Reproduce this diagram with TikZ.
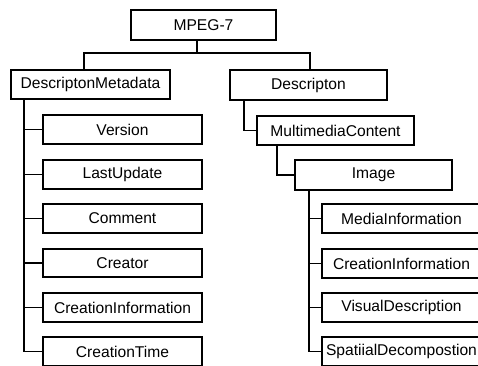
\documentclass[tikz,border=0pt]{standalone}
\usepackage{fontspec}
\setmainfont{Liberation Sans}
\tikzset{
  box/.style={draw, line width=1.1pt, inner sep=0pt, minimum height=29pt, font=\fontsize{15.6}{16}\selectfont},
  wbox/.style={box, minimum width=159pt},
  link/.style={line width=1.1pt}
}
\begin{document}
\begin{tikzpicture}[x=1pt,y=-1pt]
\useasboundingbox (0,0) rectangle (478,365);
\clip (0,0) rectangle (478,365);
\fill[white] (0,0) rectangle (478,365);
% nodes
\node[box, minimum width=145pt, minimum height=30pt] (mpeg) at (203.5,25) {MPEG-7};
\node[wbox] (dm) at (90.5,84.5) {DescriptonMetadata};
\node[box, minimum width=157pt, minimum height=30pt] (desc) at (308.5,85) {Descripton};
\node[wbox, minimum width=157pt] (mc) at (335.5,130.5) {MultimediaContent};
\node[wbox, minimum width=157pt, minimum height=30pt] (img) at (373.5,175) {Image};
% left children
\node[wbox] (ver) at (122.5,129.5) {Version};
\node[wbox] (lu)  at (122.5,174.5) {LastUpdate};
\node[wbox] (com) at (122.5,218.5) {Comment};
\node[wbox, minimum height=28pt] (cre) at (122.5,263) {Creator};
\node[wbox] (lci) at (122.5,307.5) {CreationInformation};
\node[wbox] (ct)  at (122.5,351.5) {CreationTime};
% right children
\node[wbox] (mi)  at (401.5,218.5) {MediaInformation};
\node[wbox] (rci) at (401.5,263.5) {CreationInformation};
\node[wbox] (vd)  at (401.5,307.5) {VisualDescription};
\node[wbox] (sd)  at (401.5,351.5) {SpatiialDecompostion};
% coordinates
\coordinate (t) at (197,53);
\coordinate (lx) at (84,53);
\coordinate (rx) at (310,53);
\coordinate (lb) at (24,352);
\coordinate (d1) at (244,130.5);
\coordinate (m1) at (277,175);
\coordinate (rb) at (309,352);
% connectors
\draw[link] (mpeg.south -| t) -- (t);
\draw[link] (dm.north -| lx) -- (lx) -- (rx) -- (desc.north -| rx);
\draw[link] (dm.south -| lb) -- (lb);
\foreach \n in {ver,lu,com,cre,lci,ct} \draw[link] (\n.west) -- (\n.west -| lb);
\draw[link] (desc.south -| d1) -- (d1) -- (mc.west);
\draw[link] (mc.south -| m1) -- (m1) -- (img.west);
\draw[link] (img.south -| rb) -- (rb);
\foreach \n in {mi,rci,vd,sd} \draw[link] (\n.west) -- (\n.west -| rb);
\end{tikzpicture}
\end{document}
